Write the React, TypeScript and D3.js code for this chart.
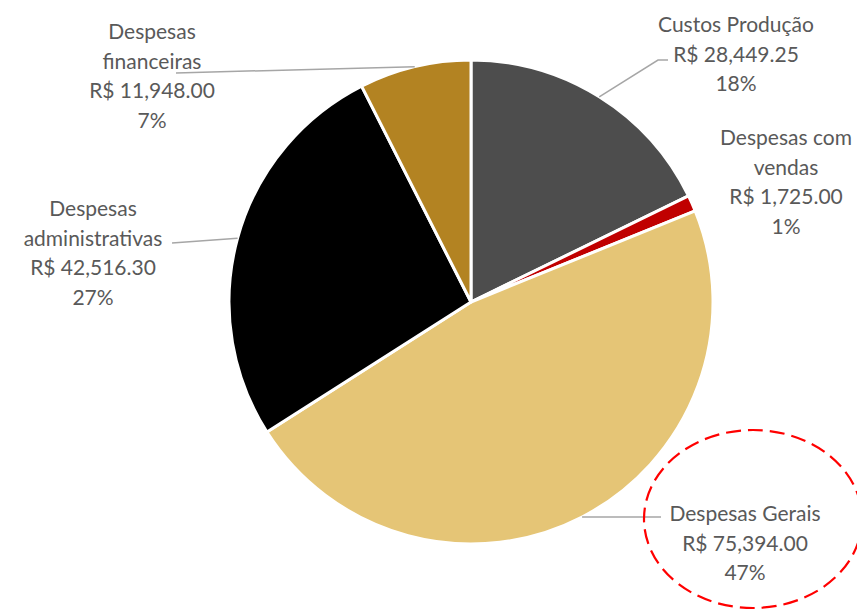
import React from "react";
import * as d3 from "d3";

const categories = [
  "Custos Produção",
  "Despesas com vendas",
  "Despesas Gerais",
  "Despesas administrativas",
  "Despesas financeiras",
];
const values = [28449.25, 1725.0, 75394.0, 42516.3, 11948.0];
const colors = ["#4d4d4d", "#c00000", "#e5c576", "#000000", "#b38322"];
// label text lines (category part) as wrapped in the chart
const labelLines = [
  ["Custos Produção"],
  ["Despesas com", "vendas"],
  ["Despesas Gerais"],
  ["Despesas", "administrativas"],
  ["Despesas", "financeiras"],
];
// label layout: center x, first baseline y, leader end point (or null)
const labelLayout = [
  { cx: 736, y: 32, leader: [658, 60, 668, 60] },
  { cx: 786, y: 145, leader: null },
  { cx: 745, y: 521, leader: [661, 517, 661, 517] },
  { cx: 93, y: 216, leader: [172, 243, 172, 243] },
  { cx: 152, y: 39, leader: [176, 73, 176, 73] },
];

const W = 857;
const H = 610;
const CX = 471;
const CY = 302;
const R = 242;
const LINE = 29.5;

export default function App() {
  const total = d3.sum(values);
  const pie = d3.pie<number>().sort(null).value((d) => d);
  const arcs = pie(values);
  const arc = d3.arc<d3.PieArcDatum<number>>().innerRadius(0).outerRadius(R);
  const edge = d3.arc<d3.PieArcDatum<number>>().innerRadius(R).outerRadius(R);
  const fmt = d3.format(",.2f");
  const pct = d3.format(".0%");

  return (
    <svg
      width={W}
      height={H}
      style={{ position: "absolute", left: 0, top: 0, background: "#fff" }}
      fontFamily="Lato, 'Open Sans', sans-serif"
    >
      <g transform={`translate(${CX},${CY})`}>
        {arcs.map((a, i) => (
          <path key={i} d={arc(a) || ""} fill={colors[i]} stroke="#fff" strokeWidth={3} strokeLinejoin="round" />
        ))}
      </g>
      {arcs.map((a, i) => {
        const L = labelLayout[i];
        if (!L.leader) return null;
        const [ex, ey] = edge.centroid(a);
        const [x1, y1, x2, y2] = L.leader;
        return (
          <polyline
            key={"l" + i}
            points={`${CX + ex},${CY + ey} ${x1},${y1} ${x2},${y2}`}
            fill="none"
            stroke="#a6a6a6"
            strokeWidth={1.5}
          />
        );
      })}
      {arcs.map((a, i) => {
        const L = labelLayout[i];
        const lines = [...labelLines[i], "R$ " + fmt(values[i]), pct(values[i] / total)];
        return (
          <text key={"t" + i} x={L.cx} y={L.y} textAnchor="middle" fontSize={21} fill="#595959">
            {lines.map((s, j) => (
              <tspan key={j} x={L.cx} y={L.y + j * LINE}>
                {s}
              </tspan>
            ))}
          </text>
        );
      })}
      <ellipse
        cx={753}
        cy={519}
        rx={109}
        ry={89}
        fill="none"
        stroke="#ff0000"
        strokeWidth={2.2}
        strokeDasharray="15 7"
      />
    </svg>
  );
}
